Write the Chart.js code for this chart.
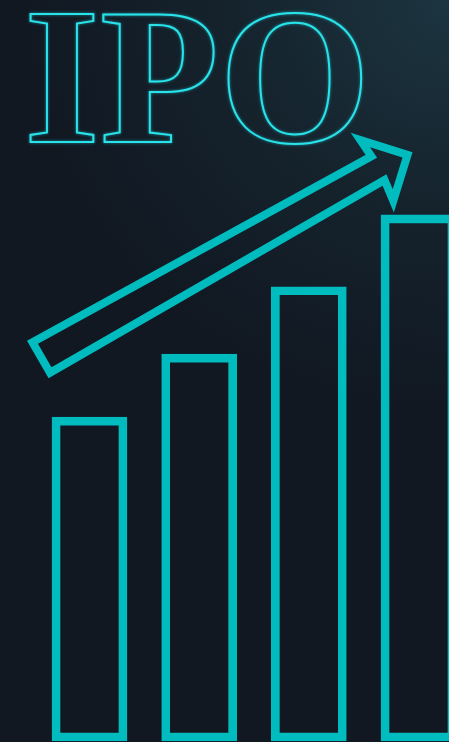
<!DOCTYPE html>
<html>
<head>
<meta charset="utf-8">
<script src="https://cdn.jsdelivr.net/npm/chart.js@4.4.0/dist/chart.umd.min.js"></script>
<style>
  html, body { margin: 0; padding: 0; }
  body {
    width: 449px; height: 742px; overflow: hidden;
    background: radial-gradient(ellipse 95% 55% at 100% 0%, #1c3540 0%, #15232d 50%, #111822 100%);
  }
  #wrap { position: relative; width: 449px; height: 742px; }
</style>
</head>
<body>
<div id="wrap"><canvas id="ipo"></canvas></div>
<script>
const categories = ['Q1', 'Q2', 'Q3', 'Q4'];
const barValues = [43.7, 52.2, 61.3, 71.0];
// trend arrow outline in (category index, value) units, closed on the tail edge
const arrowX = [-0.44, -0.52, 2.57, 2.47, 2.90, 2.77, 2.69, -0.36, -0.44];
const arrowY = [51.75, 53.8, 78.9, 81.1, 79.1, 72.9, 75.7, 49.7, 51.75];
const titleText = 'IPO';

const teal = '#00bcbf';

const outlineTitle = {
  id: 'outlineTitle',
  beforeDatasetsDraw(chart) {
    const ctx = chart.ctx;
    ctx.save();
    ctx.font = 'bold 195px "Liberation Serif"';
    ctx.textBaseline = 'alphabetic';
    ctx.lineWidth = 2;
    ctx.strokeStyle = '#2ae3ea';
    ctx.shadowColor = 'rgba(30,230,240,0.6)';
    ctx.shadowBlur = 3;
    ctx.strokeText(titleText, 24, 142);
    ctx.restore();
  }
};

new Chart(document.getElementById('ipo'), {
  data: {
    labels: categories,
    datasets: [
      {
        type: 'bar',
        data: barValues,
        backgroundColor: 'transparent',
        borderColor: teal,
        borderWidth: 8,
        borderSkipped: false,
        grouped: false,
        barThickness: 75,
        maxBarThickness: 75,
        clip: false,
        xAxisID: 'x',
        yAxisID: 'y'
      },
      {
        type: 'line',
        data: arrowX.map((x, i) => ({ x: x, y: arrowY[i] })),
        xAxisID: 'xa',
        yAxisID: 'y',
        borderColor: teal,
        borderWidth: 8,
        borderJoinStyle: 'miter',
        pointRadius: 0,
        tension: 0,
        fill: false,
        clip: false
      }
    ]
  },
  options: {
    responsive: true,
    maintainAspectRatio: false,
    animation: false,
    layout: { padding: { left: 89.5, right: 30.5, top: 0, bottom: 1 } },
    scales: {
      x: { type: 'category', offset: false, display: false },
      xa: { type: 'linear', min: 0, max: 3, display: false },
      y: { min: 0, max: 100, display: false }
    },
    plugins: {
      legend: { display: false },
      tooltip: { enabled: false }
    }
  },
  plugins: [outlineTitle]
});
</script>
</body>
</html>
